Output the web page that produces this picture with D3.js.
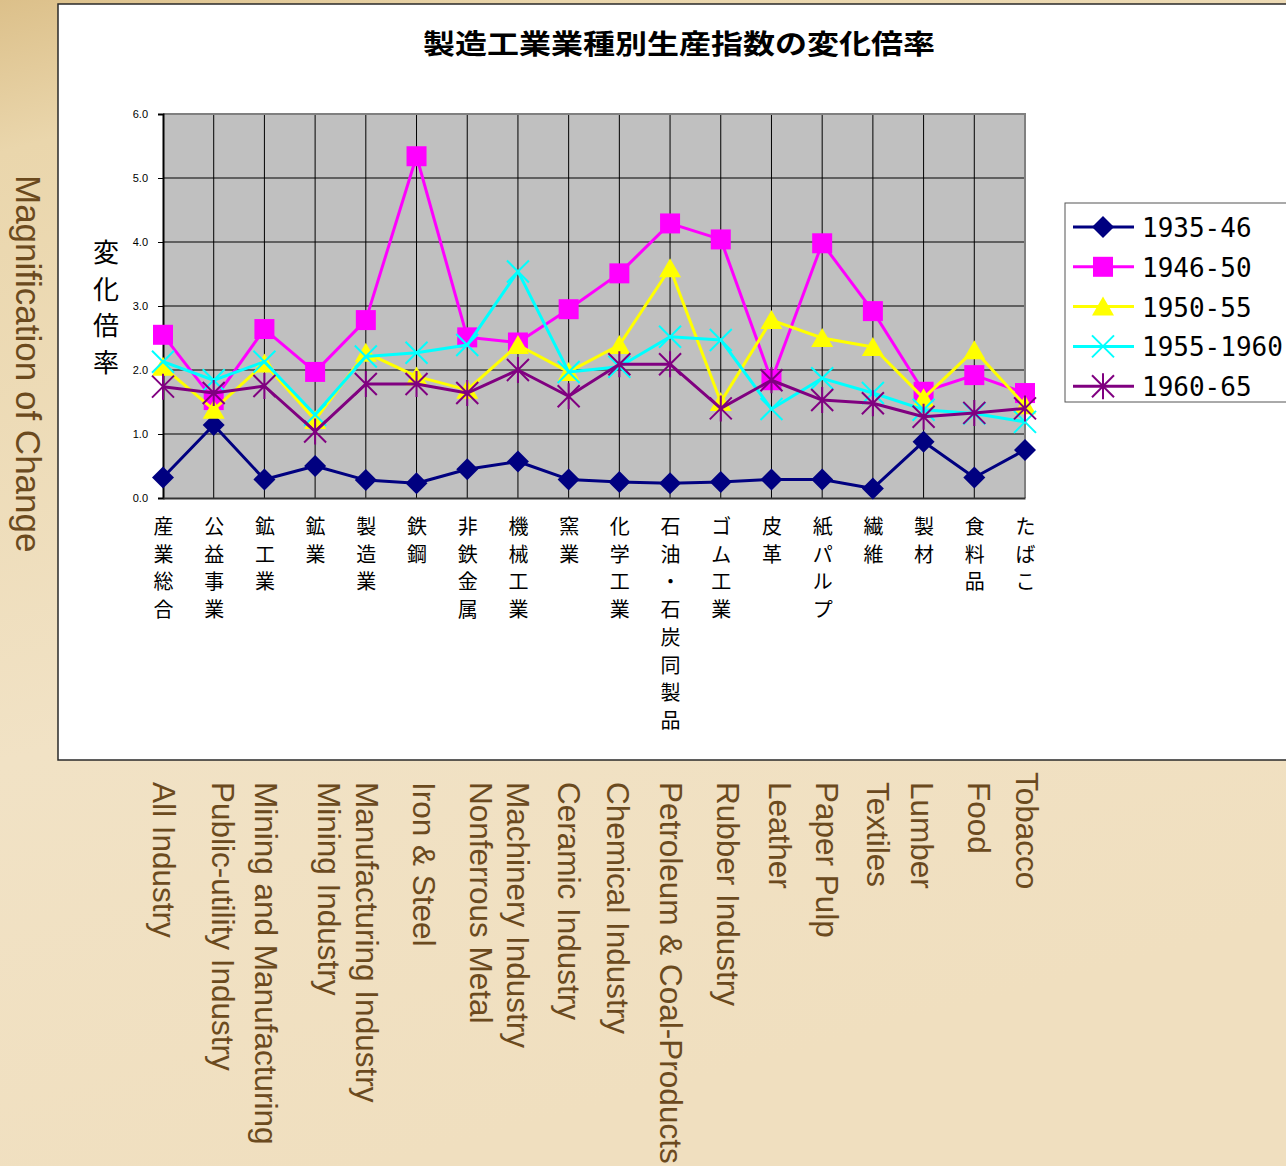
<!DOCTYPE html>
<html>
<head>
<meta charset="utf-8">
<title>製造工業業種別生産指数の変化倍率</title>
<style>
  html, body { margin: 0; padding: 0; }
  body { width: 1286px; height: 1166px; overflow: hidden; }
</style>
</head>
<body>
<script src="https://d3js.org/d3.v7.min.js"></script>
<script>

// ---- data ----
var categories = ["産業総合", "公益事業", "鉱工業", "鉱業", "製造業", "鉄鋼", "非鉄金属", "機械工業", "窯業",
                  "化学工業", "石油・石炭同製品", "ゴム工業", "皮革", "紙パルプ", "繊維", "製材", "食料品", "たばこ"];

var englishLabels = ["All Industry", "Public-utility Industry", "Mining and Manufacturing", "Mining Industry",
                     "Manufacturing Industry", "Iron & Steel", "Nonferrous Metal", "Machinery Industry",
                     "Ceramic Industry", "Chemical Industry", "Petroleum & Coal-Products", "Rubber Industry",
                     "Leather", "Paper Pulp", "Textiles", "Lumber", "Food", "Tobacco"];

var seriesNames = ["1935-46", "1946-50", "1950-55", "1955-1960", "1960-65"];

var v1935_46 = [0.32, 1.14, 0.29, 0.50, 0.28, 0.23, 0.45, 0.57, 0.29, 0.25, 0.23, 0.25, 0.29, 0.29, 0.15, 0.88, 0.32, 0.75];
var v1946_50 = [2.55, 1.53, 2.64, 1.97, 2.78, 5.34, 2.51, 2.43, 2.95, 3.51, 4.29, 4.04, 1.84, 3.98, 2.92, 1.66, 1.92, 1.64];
var v1950_55 = [2.05, 1.38, 2.10, 1.22, 2.27, 1.90, 1.69, 2.39, 1.97, 2.39, 3.59, 1.50, 2.78, 2.50, 2.36, 1.56, 2.31, 1.45];
var v1955_60 = [2.13, 1.84, 2.13, 1.30, 2.21, 2.27, 2.39, 3.54, 1.97, 2.05, 2.52, 2.47, 1.39, 1.87, 1.64, 1.38, 1.32, 1.19];
var v1960_65 = [1.74, 1.64, 1.75, 1.04, 1.78, 1.78, 1.64, 2.00, 1.59, 2.09, 2.09, 1.40, 1.84, 1.53, 1.48, 1.27, 1.33, 1.40];

var yTicks = [0, 1, 2, 3, 4, 5, 6];

// ---- layout ----
var W = 1286, H = 1166;
var plot = {left: 163, right: 1025, top: 114, bottom: 498};

var colors  = ["#000080", "#ff00ff", "#ffff00", "#00ffff", "#800080"];
var markers = ["diamond", "square", "triangle", "cross", "star"];
var values  = [v1935_46, v1946_50, v1950_55, v1955_60, v1960_65];

var x = d3.scalePoint().domain(categories).range([plot.left, plot.right]).padding(0);
var y = d3.scaleLinear().domain([0, 6]).range([plot.bottom, plot.top]);

var svg = d3.select("body").append("svg")
    .attr("width", W)
    .attr("height", H);

// parchment background
var defs = svg.append("defs");
var grad = defs.append("linearGradient").attr("id", "paper")
    .attr("x1", 0).attr("y1", 0).attr("x2", 0.3).attr("y2", 1);
grad.append("stop").attr("offset", "0%").attr("stop-color", "#dcc08a");
grad.append("stop").attr("offset", "12%").attr("stop-color", "#ead6ac");
grad.append("stop").attr("offset", "60%").attr("stop-color", "#f1e2c5");
grad.append("stop").attr("offset", "100%").attr("stop-color", "#f0dfbf");

svg.append("rect")
    .attr("width", W).attr("height", H)
    .attr("fill", "url(#paper)");

// white chart box (runs off the right edge)
svg.append("rect")
    .attr("x", 58).attr("y", 4)
    .attr("width", W).attr("height", 756)
    .attr("fill", "#ffffff")
    .attr("stroke", "#2a2a2a")
    .attr("stroke-width", 1.5);

svg.append("text")
    .attr("x", 423).attr("y", 54)
    .attr("textLength", 512)
    .attr("lengthAdjust", "spacingAndGlyphs")
    .attr("font-family", "'Noto Sans CJK JP', sans-serif")
    .attr("font-weight", "bold")
    .attr("font-size", "27px")
    .attr("fill", "#000")
    .text("製造工業業種別生産指数の変化倍率");

// plot area
svg.append("rect")
    .attr("x", plot.left).attr("y", plot.top)
    .attr("width", plot.right - plot.left)
    .attr("height", plot.bottom - plot.top)
    .attr("fill", "#c0c0c0");

// grid lines
svg.append("g")
    .selectAll("line")
    .data(yTicks.slice(1, -1))
    .join("line")
    .attr("x1", plot.left).attr("x2", plot.right)
    .attr("y1", function(d) { return y(d); })
    .attr("y2", function(d) { return y(d); })
    .attr("stroke", "#000")
    .attr("stroke-width", 1);

svg.append("g")
    .selectAll("line")
    .data(categories.slice(1, -1))
    .join("line")
    .attr("x1", function(d) { return x(d); })
    .attr("x2", function(d) { return x(d); })
    .attr("y1", plot.top).attr("y2", plot.bottom)
    .attr("stroke", "#000")
    .attr("stroke-width", 1);

// top / right frame
svg.append("path")
    .attr("d", "M" + plot.left + "," + plot.top + "H" + plot.right + "V" + plot.bottom)
    .attr("fill", "none")
    .attr("stroke", "#808080")
    .attr("stroke-width", 2);

// y axis
var yAxis = svg.append("g")
    .attr("transform", "translate(" + plot.left + ",0)")
    .call(d3.axisLeft(y).tickValues(yTicks).tickFormat(d3.format(".1f")).tickSize(5).tickPadding(10));
yAxis.select(".domain").attr("stroke", "#000").attr("stroke-width", 2);
yAxis.selectAll(".tick line").attr("stroke", "#000");
yAxis.selectAll(".tick text")
    .attr("font-family", "'Liberation Sans', Arial, sans-serif")
    .attr("font-size", "11px")
    .attr("fill", "#000");

// x axis with stacked vertical category labels
var xAxis = svg.append("g")
    .attr("transform", "translate(0," + plot.bottom + ")")
    .call(d3.axisBottom(x).tickSize(0).tickFormat(""));
xAxis.select(".domain").attr("stroke", "#333").attr("stroke-width", 2);
xAxis.selectAll(".tick text").remove();
xAxis.selectAll(".tick").append("text")
    .attr("font-family", "'Noto Sans CJK JP', sans-serif")
    .attr("font-size", "20px")
    .attr("fill", "#000")
    .attr("text-anchor", "middle")
    .selectAll("tspan")
    .data(function(d) { return Array.from(d); })
    .join("tspan")
    .attr("x", 0)
    .attr("y", function(d, i) { return 36 + i * 27.7; })
    .text(function(d) { return d; });

// y axis title, one character per row
svg.append("text")
    .attr("font-family", "'Noto Sans CJK JP', sans-serif")
    .attr("font-size", "26px")
    .attr("fill", "#000")
    .attr("text-anchor", "middle")
    .selectAll("tspan")
    .data(Array.from("変化倍率"))
    .join("tspan")
    .attr("x", 106)
    .attr("y", function(d, i) { return 262 + i * 36.7; })
    .text(function(d) { return d; });

// marker shapes
function markerPath(type) {
    switch (type) {
        case "diamond":  return "M0,-11L11,0L0,11L-11,0Z";
        case "square":   return "M-10,-10H10V10H-10Z";
        case "triangle": return "M0,-10L11,9L-11,9Z";
        case "cross":    return "M-11,-11L11,11M11,-11L-11,11";
        case "star":     return "M-11,-11L11,11M11,-11L-11,11M0,-13V13";
    }
}
function isFilled(type) { return type === "diamond" || type === "square" || type === "triangle"; }

var line = d3.line()
    .x(function(d, i) { return x(categories[i]); })
    .y(function(d) { return y(d); });

values.forEach(function(vals, s) {
    var g = svg.append("g");
    g.append("path")
        .datum(vals)
        .attr("d", line)
        .attr("fill", "none")
        .attr("stroke", colors[s])
        .attr("stroke-width", 3)
        .attr("stroke-linejoin", "round");
    g.selectAll("path.mk")
        .data(vals)
        .join("path")
        .attr("class", "mk")
        .attr("transform", function(d, i) { return "translate(" + x(categories[i]) + "," + y(d) + ")"; })
        .attr("d", markerPath(markers[s]))
        .attr("fill", isFilled(markers[s]) ? colors[s] : "none")
        .attr("stroke", colors[s])
        .attr("stroke-width", isFilled(markers[s]) ? 0 : 2);
});

// legend
var legend = svg.append("g");
legend.append("rect")
    .attr("x", 1065).attr("y", 203)
    .attr("width", 240).attr("height", 199)
    .attr("fill", "#fff")
    .attr("stroke", "#555")
    .attr("stroke-width", 1);

var rows = legend.selectAll("g.row")
    .data(seriesNames)
    .join("g")
    .attr("class", "row")
    .attr("transform", function(d, i) { return "translate(0," + (227 + i * 39.8) + ")"; });
rows.append("line")
    .attr("x1", 1073).attr("x2", 1134)
    .attr("stroke", function(d, i) { return colors[i]; })
    .attr("stroke-width", 3);
rows.append("path")
    .attr("transform", "translate(1103,0)")
    .attr("d", function(d, i) { return markerPath(markers[i]); })
    .attr("fill", function(d, i) { return isFilled(markers[i]) ? colors[i] : "none"; })
    .attr("stroke", function(d, i) { return colors[i]; })
    .attr("stroke-width", function(d, i) { return isFilled(markers[i]) ? 0 : 2; });
rows.append("text")
    .attr("x", 1142).attr("y", 10)
    .attr("font-family", "'DejaVu Sans Mono', monospace")
    .attr("font-size", "26px")
    .attr("fill", "#000")
    .text(function(d) { return d; });

// English labels on the slide
var enColor = "#6b4a1e";
svg.append("text")
    .attr("transform", "translate(28,175) rotate(90)")
    .attr("dominant-baseline", "central")
    .attr("font-family", "'Liberation Sans', Arial, sans-serif")
    .attr("font-size", "35px")
    .attr("fill", enColor)
    .text("Magnification of Change");

var enNudge = [1, 9, 2, 14, 1, 7, 14, 0, 0, -1, 1, 7, 9, 5, 5, -2, 5, 2];
svg.append("g")
    .selectAll("text")
    .data(englishLabels)
    .join("text")
    .attr("transform", function(d, i) {
        var top = i === englishLabels.length - 1 ? 772 : 782;
        return "translate(" + (x(categories[i]) + enNudge[i]) + "," + top + ") rotate(90)";
    })
    .attr("dominant-baseline", "central")
    .attr("font-family", "'Liberation Sans', Arial, sans-serif")
    .attr("font-size", "31.5px")
    .attr("fill", enColor)
    .text(function(d) { return d; });

</script>
</body>
</html>
